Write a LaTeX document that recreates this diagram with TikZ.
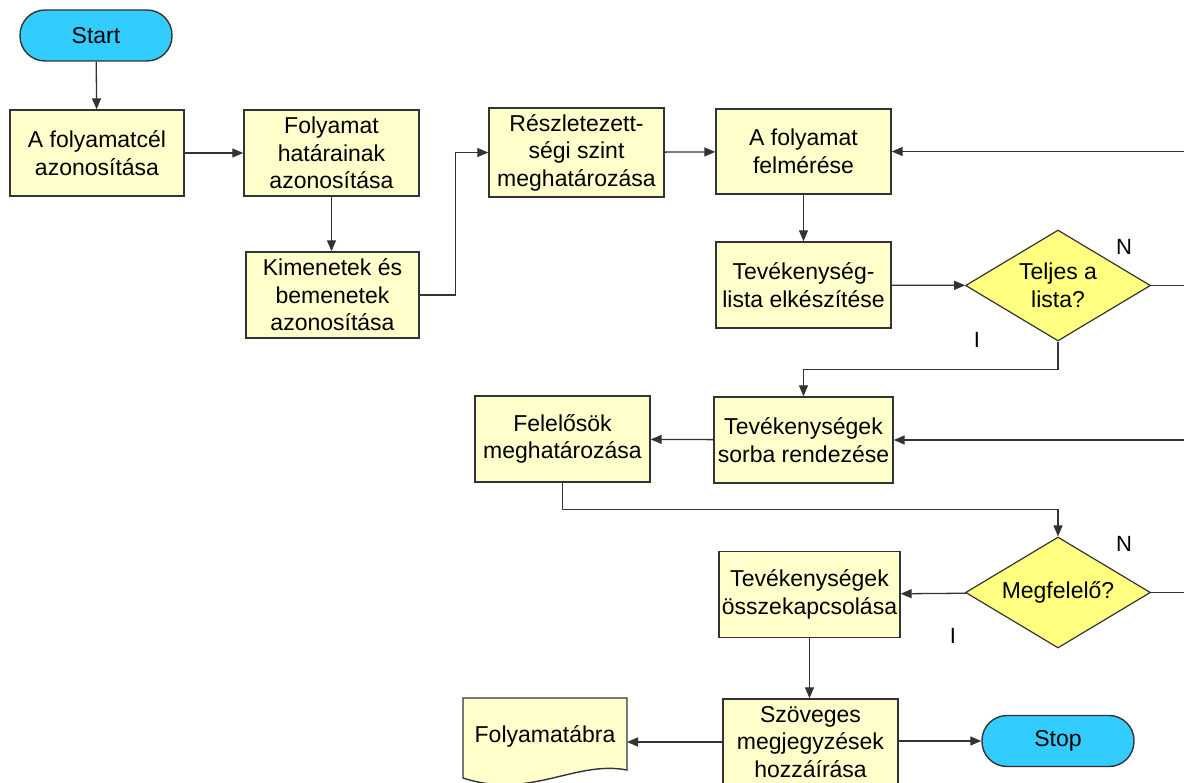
\documentclass[tikz,border=0pt]{standalone}
\usepackage{fontspec}
\setmainfont{Liberation Sans}
\usetikzlibrary{arrows.meta,shapes.geometric}
\definecolor{boxfill}{HTML}{FFFFCC}
\definecolor{diafill}{HTML}{FFFF80}
\definecolor{termfill}{HTML}{33CCFF}
\definecolor{edge}{HTML}{333333}
\begin{document}
\begin{tikzpicture}[x=1pt,y=-1pt,
  font=\fontsize{23}{27.5}\selectfont,
  every node/.style={inner sep=0pt,align=center},
  procbox/.style={draw=edge,line width=1.4pt,fill=boxfill,minimum width=175pt,minimum height=86pt},
  decision/.style={draw=edge,line width=1.2pt,fill=diafill,diamond,aspect=1.667,minimum width=185pt,minimum height=111pt},
  terminal/.style={draw=edge,line width=1.4pt,fill=termfill,rounded corners=25pt,minimum width=152pt,minimum height=51pt},
  conn/.style={draw=edge,line width=1.3pt},
  arr/.style={conn,-{Triangle[length=11pt,width=9pt]}},
  lbl/.style={font=\fontsize{22}{26}\selectfont}
]
\useasboundingbox (0,0) rectangle (1184,783);
\clip (0,0) rectangle (1184,783);

\node[terminal] (start) at (96,35.5) {Start};
\node[procbox,minimum width=174pt] (cel) at (97,153) {A folyamatcél\\azonosítása};
\node[procbox] (hatar) at (331.5,153) {Folyamat\\határainak\\azonosítása};
\node[procbox,minimum width=173pt] (kim) at (332.5,295) {Kimenetek és\\bemenetek\\azonosítása};
\node[procbox,minimum height=89pt] (reszl) at (576.5,152.5) {Részletezett-\\ségi szint\\meghatározása};
\node[procbox,minimum height=85pt] (felm) at (803.5,151.5) {A folyamat\\felmérése};
\node[procbox] (lista) at (803.5,285) {Tevékenység-\\lista elkészítése};
\node[decision] (d1) at (1058,285.5) {Teljes a\\lista?};
\node[lbl] (n1) at (1124,247) {N};
\node[lbl] (i1) at (977,340) {I};
\node[procbox,minimum width=179pt] (sorba) at (803.5,440) {Tevékenységek\\sorba rendezése};
\node[procbox] (felel) at (562.5,439) {Felelősök\\meghatározása};
\node[decision] (d2) at (1058,592.5) {Megfelelő?};
\node[lbl] (n2) at (1124,544) {N};
\node[lbl] (i2) at (953,636) {I};
\node[procbox,minimum width=181pt] (kapcs) at (809.5,594.5) {Tevékenységek\\összekapcsolása};
\node[procbox] (szov) at (810.5,742) {Szöveges\\megjegyzések\\hozzáírása};
\node[terminal] (stop) at (1058,741) {Stop};

% document shape
\draw[draw=edge,line width=1.4pt,fill=boxfill]
  (463,778) -- (463,698) -- (627,698) -- (627,770)
  .. controls (575,760) and (530,800) .. (463,778) -- cycle;
\node (doc) at (545,736) {Folyamatábra};
\coordinate (docE) at (627,742);

\draw[arr] (start) -- (cel);
\draw[arr] (cel) -- (hatar);
\draw[arr] (hatar.south) -- (hatar.south |- kim.north);
\draw[arr] (kim.east) -- ++(36,0) |- (reszl.west);
\draw[arr] (reszl) -- (felm);
\draw[arr] (felm) -- (lista);
\draw[arr] (lista) -- (d1);
\draw[arr] (d1.south) -- ++(0,28) -| (sorba.north);
\draw[arr] (d1.east) -- (1210,285.5) |- (felm.east);
\draw[arr] (sorba) -- (felel);
\draw[arr] (felel.south) -- ++(0,27) -| (d2.north);
\draw[arr] (d2.east) -- (1220,592.5) |- (sorba.east);
\draw[arr] (d2) -- (kapcs);
\draw[arr] (kapcs.south) -- (kapcs.south |- szov.north);
\draw[arr] (szov.west) -- (docE);
\draw[arr] (szov.east |- stop.west) -- (stop.west);
\end{tikzpicture}
\end{document}
